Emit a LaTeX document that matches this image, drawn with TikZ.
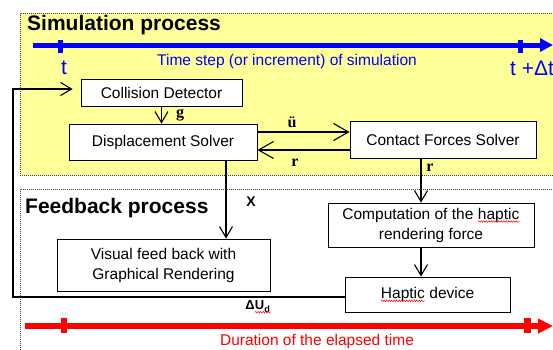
\documentclass[tikz,border=0pt]{standalone}
\usepackage{fontspec}
\setmainfont{Liberation Sans}
\newfontfamily\lblfont{Liberation Serif}
\usetikzlibrary{arrows.meta,decorations.pathmorphing}
\definecolor{simyellow}{RGB}{255,255,153}
\newcommand{\spellmark}[1]{\tikz[baseline=(w.base)]{\node[draw=none, fill=none, minimum size=0pt, inner sep=0pt, outer sep=0pt, anchor=base] (w) {#1};
  \draw[red, line width=0.5pt, decorate, decoration={snake, amplitude=0.8pt, segment length=2.5pt}] ([yshift=-2.5pt]w.base west) -- ([yshift=-2.5pt]w.base east);}}
\tikzset{
  frame/.style={line width=1pt, dash pattern=on 1pt off 1pt, draw=black!75},
  blk/.style={draw, fill=white, line width=0.8pt, inner sep=0pt, align=center, font=\fontsize{15.5}{20}\selectfont},
  arr/.style={line width=1.1pt, -{Straight Barb[length=11pt,width=13pt,line width=1.1pt]}},
  bigarr/.style={line width=1.1pt, -{Straight Barb[length=15pt,width=17pt,line width=1.1pt]}},
  title/.style={anchor=west, inner sep=0pt, font=\bfseries\fontsize{21}{24}\selectfont},
  axtext/.style={inner sep=0pt, font=\fontsize{15.5}{18}\selectfont},
  tmark/.style={text=blue, inner sep=0pt, font=\fontsize{21}{21}\selectfont},
  lbl/.style={inner sep=0pt, font=\lblfont\bfseries\fontsize{16}{16}\selectfont}
}
\begin{document}
\begin{tikzpicture}[x=1pt,y=-1pt]
\useasboundingbox (0,0) rectangle (553,349);
% process frames
\draw[frame, fill=simyellow] (20,13) rectangle (570,175);
\draw[frame] (20,189) rectangle (570,370);
\node[title] (simt) at (27,25) {Simulation process};
\node[title] (fbt) at (25,208) {Feedback process};

% simulation time axis
\draw[blue, line width=5pt, -{Triangle[length=13pt,width=13pt]}] (33,45) -- (553,45);
\fill[blue] (58,39.5) rectangle (63,52.5);
\fill[blue] (518,39.5) rectangle (523,52.5);
\node[tmark] (t0) at (64,68) {t};
\node[tmark] (t1) at (532,68) {t +Δt};
\node[axtext, text=blue] (simlbl) at (287,61) {Time step (or increment) of simulation};

% elapsed time axis
\draw[red, line width=6pt, -{Triangle[length=15pt,width=14pt]}] (25,326) -- (553,326);
\fill[red] (61,318) rectangle (67,333);
\fill[red] (524,318) rectangle (531,333);
\node[axtext, text=red] (durlbl) at (317,341) {Duration of the elapsed time};

% blocks
\node[blk, minimum width=161pt, minimum height=27pt] (cd) at (161.5,92.5) {Collision Detector};
\node[blk, minimum width=188pt, minimum height=36pt] (ds) at (163,142) {Displacement Solver};
\node[blk, minimum width=186pt, minimum height=37pt] (cfs) at (443,139.5) {Contact Forces Solver};
\node[blk, minimum width=213pt, minimum height=52pt] (vis) at (163.5,265) {Visual feed back with\\Graphical Rendering};
\node[blk, minimum width=206pt, minimum height=44pt] (comp) at (431,225) {Computation of the \spellmark{haptic}\\rendering force};
\node[blk, minimum width=165pt, minimum height=35pt] (hap) at (427.5,294.5) {\spellmark{Haptic} device};

% connectors
\coordinate (rx) at (421,0);
\coordinate (xx) at (226,0);
\coordinate (loop) at (13,0);
\draw[arr] (cd.south) -- (cd.south |- ds.north);
\draw[bigarr] (ds.east |- 0,132) -- (cfs.west |- 0,132);
\draw[bigarr] (cfs.west |- 0,150) -- (ds.east |- 0,150);
\draw[arr] (rx |- cfs.south) -- (rx |- comp.north);
\draw[arr] (xx |- ds.south) -- (xx |- vis.north);
\draw[arr] (rx |- comp.south) -- (rx |- hap.north);
\draw[arr, shorten >=8pt] (hap.west |- 0,297) -| (loop |- 0,89) -- (cd.west |- 0,89);

% labels
\node[lbl] (glbl) at (180,115) {g};
\node[lbl] (ulbl) at (292,122) {ü};
\node[lbl] (rlbl) at (295,163) {r};
\node[lbl] (r2lbl) at (430,168) {r};
\node[inner sep=0pt, font=\bfseries\fontsize{14}{14}\selectfont] (xlbl) at (251,202) {X};
\node[inner sep=0pt, font=\bfseries\fontsize{13}{13}\selectfont] (dulbl) at (258,307) {Δ\spellmark{U\textsubscript{d}}};
\end{tikzpicture}
\end{document}
